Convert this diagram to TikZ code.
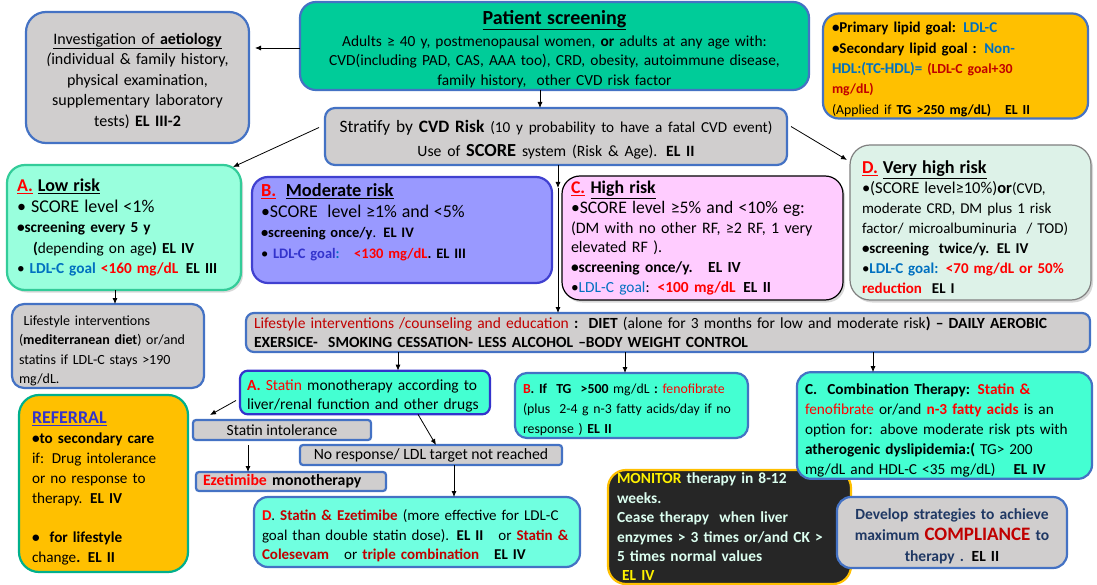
\documentclass[tikz,border=0pt]{standalone}
\usepackage{fontspec}
\setmainfont{Carlito}
\usetikzlibrary{arrows.meta,shadows}
\definecolor{gfill}{RGB}{208,206,206}
\definecolor{bblue}{RGB}{68,114,196}
\definecolor{psgreen}{RGB}{0,204,153}
\definecolor{gold}{RGB}{255,192,0}
\definecolor{tblue}{RGB}{0,112,192}
\definecolor{dred}{RGB}{192,0,0}
\definecolor{lowfill}{RGB}{153,255,221}
\definecolor{lowdraw}{RGB}{51,204,153}
\definecolor{modfill}{RGB}{153,153,255}
\definecolor{moddraw}{RGB}{64,64,208}
\definecolor{highfill}{RGB}{255,204,255}
\definecolor{vhfill}{RGB}{221,242,232}
\definecolor{vhdraw}{RGB}{128,128,128}
\definecolor{aqua}{RGB}{68,255,210}
\definecolor{aqua2}{RGB}{112,255,224}
\definecolor{purp}{RGB}{51,51,204}
\definecolor{monfill}{RGB}{38,38,38}
\definecolor{montext}{RGB}{220,255,240}
\definecolor{navy}{RGB}{31,56,100}
\definecolor{refdraw}{RGB}{0,176,140}
\newcommand\fsz[2]{\fontsize{#1}{#2}\selectfont}
\newcommand\uln[1]{\underline{#1}}
\newcommand\jline[1]{\makebox[\hsize][s]{#1}}
\tikzset{
  box/.style={draw=bblue, line width=2.2pt, rounded corners=14pt, inner xsep=9pt, inner ysep=2pt, outer sep=0pt},
  shad/.style={drop shadow={shadow xshift=2pt, shadow yshift=-2.5pt, opacity=0.3}},
  arr/.style={-{Latex[length=6pt,width=5pt]}, line width=0.8pt, black}
}
\begin{document}
\begin{tikzpicture}[x=1pt,y=-1pt]
\useasboundingbox (0,0) rectangle (1097,585);
\fill[white] (0,0) rectangle (1097,585);
\clip (0,0) rectangle (1097,585);

\node[box, fill=gfill, rounded corners=20pt, minimum width=223pt, minimum height=131pt, text width=207pt, inner xsep=8pt, align=center, font=\fsz{16}{20.5}] (aet) at (137.5,77.5)
 {\rule{0pt}{18pt}\uln{Investigation of \textbf{aetiology}}\\ \textit{(}individual \& family history,\\ physical examination,\\ supplementary laboratory\\ tests) \textbf{EL III-2}};

\node[box, fill=psgreen, rounded corners=16pt, minimum width=509pt, minimum height=88pt, text width=493pt, inner xsep=8pt, align=center, font=\fsz{15.4}{19.5}] (ps) at (554.5,46)
 {\rule{0pt}{20pt}{\fsz{20}{22}\bfseries\uln{Patient screening}}\\[2pt] Adults ≥ 40 y, postmenopausal women, \textbf{or} adults at any age with:\\ CVD(including PAD, CAS, AAA too), CRD, obesity, autoimmune disease,\\ family history,\ \ other CVD risk factor};

\node[box, fill=gold, rounded corners=16pt, minimum width=265pt, minimum height=104pt, text width=247pt, align=left, font=\fsz{15}{20.3}\bfseries] (goal) at (955.5,66)
 {\rule{0pt}{17.5pt}•Primary lipid goal: \textcolor{tblue}{LDL-C}\\ •Secondary lipid goal : \textcolor{tblue}{Non-}\\ \textcolor{tblue}{HDL:(TC-HDL)=} {\color{dred}\fsz{13.8}{20.3}(LDL-C goal+30}\\ {\color{dred}\fsz{13.8}{20.3}mg/dL)}\\ {\fsz{13.8}{20.3}\mdseries (Applied if \textbf{TG >250 mg/dL)}\quad\textbf{EL II}}};

\node[box, fill=gfill, rounded corners=10pt, minimum width=462pt, minimum height=57pt, text width=446pt, inner xsep=8pt, align=center, font=\fsz{17.4}{24}] (strat) at (556,136.5)
 {\rule{0pt}{19pt}Stratify by \textbf{CVD Risk} {\fsz{15.2}{24}(10 y probability to have a fatal CVD event)}\\ {\fsz{15.7}{24}Use of {\fsz{18.4}{24}\textbf{SCORE}} system (Risk \& Age). \textbf{EL II}}};

\node[box, shad, draw=lowdraw, fill=lowfill, rounded corners=18pt, minimum width=234pt, minimum height=125pt, text width=214pt, inner xsep=10pt, align=left, font=\fsz{15.3}{20.5}] (low) at (124,227.5)
 {{\fsz{18}{20}\bfseries\textcolor{red}{\uln{A.}} \uln{Low risk}}\\ {\fsz{18}{20}• SCORE level <1\%}\\ \textbf{•screening every 5 y}\\ \hspace*{16pt}\textbf{(}depending on age\textbf{)} \textbf{EL IV}\\ • \textbf{\textcolor{tblue}{LDL-C goal} \textcolor{red}{<160 mg/dL}\enspace EL III}};

\node[box, draw=moddraw, fill=modfill, rounded corners=16pt, minimum width=300pt, minimum height=106pt, text width=282pt, align=left, font=\fsz{14.5}{20.7}] (mod) at (402,230)
 {{\fsz{18.4}{21}\bfseries\textcolor{red}{\uln{B.}}\ \ \uln{Moderate risk}}\\ {\fsz{17.9}{21}•SCORE\ \ level ≥1\% and <5\%}\\ \textbf{•screening once/y}. \textbf{EL IV}\\ • \textbf{\textcolor{purp}{LDL-C goal}\textcolor{tblue}{:}\quad\textcolor{red}{<130 mg/dL}. EL III}\rule[-18pt]{0pt}{0pt}};

\node[box, shad, draw=black, line width=1.2pt, fill=highfill, rounded corners=18pt, minimum width=281pt, minimum height=124pt, text width=263pt, align=left, font=\fsz{16}{19.8}] (high) at (702.5,238)
 {{\fsz{17.8}{20}\bfseries\textcolor{red}{\uln{C.}} \uln{High risk}}\\ {\fsz{17.6}{20}•SCORE level ≥5\% and <10\% eg:}\\ \jline{(DM with no other RF, ≥2 RF, 1 very}\\ elevated RF ).\\ {\fsz{15.4}{19.8}\textbf{•screening once/y.\quad EL IV}}\\ {\fsz{15.4}{19.8}•\textcolor{tblue}{LDL-C goal}: \textbf{\textcolor{red}{<100 mg/dL}\enspace EL II}}};

\node[box, shad, draw=vhdraw, line width=1.2pt, fill=vhfill, rounded corners=20pt, minimum width=241pt, minimum height=155pt, text width=217pt, inner xsep=12pt, align=left, font=\fsz{15}{20}] (vh) at (970.5,222.5)
 {\rule{0pt}{22pt}{\fsz{18.2}{20}\bfseries\textcolor{red}{\uln{D.}} \uln{Very high risk}}\\ \jline{{\fsz{16.5}{20}•(SCORE level≥10\%)\textbf{or}}(CVD,}\\ \jline{moderate CRD, DM plus 1 risk}\\ \jline{factor/ microalbuminuria\ \ / TOD)}\\ \textbf{•screening\ \ twice/y. EL IV}\\ \jline{•\textbf{\textcolor{tblue}{LDL-C goal:} \textcolor{red}{<70 mg/dL or 50\%}}}\\ \textbf{\textcolor{red}{reduction}\ \ EL I}};

\node[box, fill=gfill, rounded corners=12pt, minimum width=192pt, minimum height=80pt, text width=178pt, inner xsep=7pt, align=left, font=\fsz{14}{19.5}] (lsl) at (108,346)
 {\rule{0pt}{19pt}\ Lifestyle interventions\\ (\textbf{mediterranean diet}) or/and\\ statins if LDL-C stays >190\\ mg/dL.};

\node[box, fill=gfill, rounded corners=8pt, minimum width=844pt, minimum height=39pt, text width=828pt, inner xsep=8pt, align=left, font=\fsz{15.5}{19}] (lsm) at (668,332.5)
 {\textcolor{dred}{Lifestyle interventions /counseling and education} \textbf{:}\ \ \textbf{DIET} (alone for 3 months for low and moderate risk\textbf{) – DAILY AEROBIC}\\ \textbf{EXERSICE-\ \ SMOKING CESSATION- LESS ALCOHOL –BODY WEIGHT CONTROL}};

\node[box, draw=purp, fill=aqua, rounded corners=8pt, minimum width=250pt, minimum height=39pt, text width=236pt, inner xsep=7pt, align=left, font=\fsz{15.5}{19}] (sa) at (365,392.5)
 {\rule{0pt}{18pt}\textbf{\textcolor{red}{A.}} \textcolor{red}{Statin} monotherapy according to\\ liver/renal function and other drugs};

\node[box, fill=aqua, rounded corners=12pt, minimum width=233pt, minimum height=65pt, text width=217pt, inner xsep=8pt, align=left, font=\fsz{13.8}{20}] (sb) at (631.5,405.5)
 {\rule{0pt}{17.6pt}\textbf{\textcolor{red}{B}. If\ \ TG\ \ >500} mg/dL \textbf{:} \textcolor{red}{fenofibrate}\\ (plus\ \ 2-4 g n-3 fatty acids/day if no\\ response ) \textbf{EL II}};

\node[box, draw=gold, fill=monfill, rounded corners=18pt, minimum width=243pt, minimum height=114pt, text width=225pt, inner xsep=9pt, align=left, text=montext, font=\fsz{15.4}{19.4}\bfseries] (mon) at (729.5,527)
 {\textcolor{yellow}{MONITOR} therapy in 8-12\\ weeks.\\ Cease therapy\ \ when liver\\ enzymes > 3 times or/and CK >\\ 5 times normal values\\ \ \textcolor{yellow}{EL IV}};

\node[box, fill=aqua, rounded corners=14pt, minimum width=295pt, minimum height=105pt, text width=279pt, inner xsep=8pt, align=left, font=\fsz{15.3}{20}] (sc) at (944.5,425.5)
 {\rule{0pt}{20pt}\textbf{C.\ \ Combination Therapy: \textcolor{red}{Statin \&}}\\ \textcolor{red}{fenofibrate} or/and \textbf{\textcolor{red}{n-3 fatty acids}} is an\\ option for: above moderate risk pts with\\ \textbf{atherogenic dyslipidemia:(} TG> 200\\ mg/dL and HDL-C <35 mg/dL)\hspace{18pt}\textbf{EL IV}};

\node[box, fill=gfill, rounded corners=14pt, minimum width=230pt, minimum height=71pt, text width=214pt, inner xsep=8pt, align=center, text=navy, font=\fsz{15.5}{21}\bfseries] (dev) at (952,532.5)
 {\rule{0pt}{18pt}Develop strategies to achieve\\ maximum {\fsz{19}{21}\textcolor{dred}{COMPLIANCE}} to\\ therapy . \textcolor{black}{EL II}};

\node[box, draw=refdraw, fill=gold, rounded corners=20pt, minimum width=169pt, minimum height=177pt, text width=143pt, inner xsep=13pt, align=left, font=\fsz{15.2}{20}] (ref) at (103.5,483.5)
 {\rule{0pt}{22pt}{\fsz{18}{20}\textbf{\textcolor{purp}{\uln{REFERRAL}}}}\\ \textbf{•to secondary care}\\ if: Drug intolerance\\ or no response to\\ therapy. \textbf{EL IV}\\[19pt] \textbf{•\ \ for lifestyle}\\ change\textbf{. EL II}};

\node[box, rounded corners=3pt, fill=gfill, minimum width=178pt, minimum height=20pt, inner ysep=0pt, font=\fsz{15.5}{16}] (si) at (282,430) {Statin intolerance};
\node[box, rounded corners=3pt, fill=gfill, minimum width=262pt, minimum height=20pt, inner ysep=0pt, font=\fsz{15.7}{16}] (nr) at (431,455) {No response/ LDL target not reached};
\node[box, rounded corners=3pt, fill=gfill, minimum width=190pt, minimum height=19pt, inner ysep=0pt, text width=176pt, inner xsep=7pt, align=left, font=\fsz{15.8}{16}] (ez) at (291,481.5) {\textbf{\textcolor{red}{Ezetimibe} monotherapy}};

\node[box, fill=aqua2, rounded corners=14pt, minimum width=326pt, minimum height=70pt, text width=310pt, inner xsep=8pt, align=left, font=\fsz{15}{19.5}] (sd) at (417,532)
 {\rule{0pt}{19pt}\textbf{\textcolor{red}{D}}. \textbf{\textcolor{dred}{Statin \& Ezetimibe}} (more effective for LDL-C\\ goal than double statin dose). \textbf{EL II}\ \ \ or \textbf{\textcolor{dred}{Statin \&}}\\ \textbf{\textcolor{dred}{Colesevam}}\ \ \ or \textbf{\textcolor{dred}{triple combination}}\ \ \ \textbf{EL IV}};

\coordinate (m1) at (558,188);
\draw[arr, shorten >=6pt] (ps.west |- 0,48) -- (aet.east |- 0,48);
\draw[arr] (ps.south -| 540,0) -- (strat.north -| 540,0);
\draw[arr] ([shift={(-6,-9)}]strat.west) -- ([shift={(-8,2)}]low.north east);
\draw[arr] ([shift={(4,-10)}]strat.east) -- ([shift={(-3,15)}]vh.north west);
\draw[arr] (strat.south -| m1) -- (m1);
\draw[arr] (m1) -- (lsm.north -| m1);
\draw[arr] (low.south -| 115,0) -- (lsl.north -| 115,0);
\draw[arr] (lsm.south -| 398,0) -- (sa.north -| 398,0);
\draw[arr] (lsm.south -| 625,0) -- (sb.north -| 625,0);
\draw[arr] (lsm.south -| 873,0) -- (sc.north -| 873,0);
\draw[arr] ([shift={(-4,8)}]sa.west) -- ([shift={(17,-5)}]si.north west);
\draw[arr] (sa.south -| 418,0) -- (nr.north -| 436,0);
\draw[arr, shorten <=5pt] (si.south -| 248,0) -- (ez.north -| 248,0);
\draw[arr] (nr.south -| 454,0) -- (sd.north -| 454,0);
\end{tikzpicture}
\end{document}
